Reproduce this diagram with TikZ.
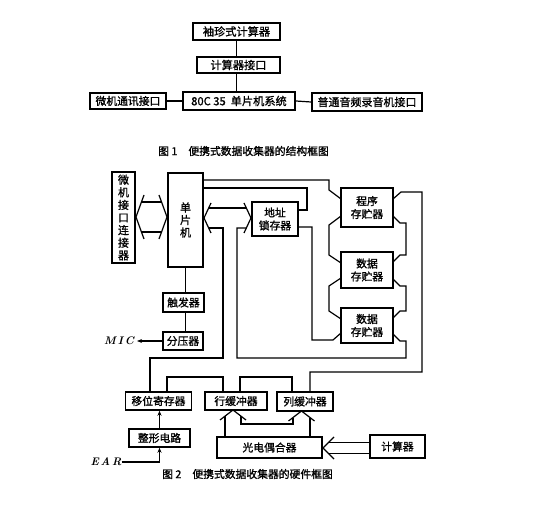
\documentclass[tikz,border=0pt]{standalone}
\usepackage{fontspec}
\newfontfamily\cjk{Noto Sans CJK SC}[AutoFakeBold=1.2]
\usetikzlibrary{arrows.meta}
\begin{document}
\begin{tikzpicture}[x=1pt,y=-1pt,
  box/.style={draw, line width=1.5pt, inner sep=0pt, align=center, font=\cjk\bfseries\fontsize{10.8}{13}\selectfont},
  boxA/.style={box, line width=1.9pt, font=\cjk\bfseries\fontsize{11.2}{13}\selectfont},
  ln/.style={line width=1.2pt},
  arr/.style={ln, -{Stealth[length=5pt,width=4pt]}},
  lbl/.style={inner sep=0pt, font=\bfseries\itshape\fontsize{11}{13}\selectfont},
  captxt/.style={inner sep=0pt, anchor=west, font=\cjk\bfseries\fontsize{10.8}{13}\selectfont},
]
\useasboundingbox[fill=white] (0,0) rectangle (536,505);

% ---------- Figure 1 ----------
\node[boxA, minimum width=87pt, minimum height=17pt] (pocket) at (236.5,31.5) {袖珍式计算器};
\node[boxA, minimum width=83pt, minimum height=16pt] (calcif) at (238.5,65) {计算器接口};
\node[boxA, minimum width=112pt, minimum height=18pt] (mcu) at (239,101) {80C 35\ \ 单片机系统};
\node[boxA, minimum width=76pt, minimum height=16pt, font=\cjk\bfseries\fontsize{10.8}{13}\selectfont] (pcif) at (128,101) {微机通讯接口};
\node[boxA, minimum width=110pt, minimum height=18pt, font=\cjk\bfseries\fontsize{11}{13}\selectfont] (tape) at (367,102) {普通音频录音机接口};
\draw[ln] (pocket.south) -- (pocket.south |- calcif.north);
\draw[ln] (pocket.south |- calcif.south) -- (pocket.south |- mcu.north);
\draw[ln] (pcif.east) -- (mcu.west);
\draw[ln] (mcu.east) -- (tape.west);
\node[captxt] (cap1) at (158,151) {图 1\hspace{11pt}便携式数据收集器的结构框图};

% ---------- Figure 2 ----------
\node[box, minimum width=23pt, minimum height=91pt, font=\cjk\bfseries\fontsize{11}{12.6}\selectfont] (conn) at (123.5,217.5) {微\\机\\接\\口\\连\\接\\器};
\node[box, minimum width=35pt, minimum height=94pt, font=\cjk\bfseries\fontsize{11}{12.5}\selectfont] (cpu) at (185.5,220) {单\\片\\机};
\node[box, minimum width=41pt, minimum height=19pt] (trig) at (183.5,302.5) {触发器};
\node[box, minimum width=40pt, minimum height=18pt] (div) at (183,341) {分压器};
\node[box, minimum width=46pt, minimum height=34pt] (latch) at (275,219) {地址\\锁存器};
\node[box, minimum width=52pt, minimum height=39pt] (prog) at (367,207.5) {程序\\存贮器};
\node[box, minimum width=52pt, minimum height=36pt] (dm1) at (367,270) {数据\\存贮器};
\node[box, minimum width=52pt, minimum height=35pt] (dm2) at (367,325.5) {数据\\存贮器};
\node[box, minimum width=66pt, minimum height=18pt] (shift) at (158.5,401) {移位寄存器};
\node[box, minimum width=62pt, minimum height=18pt] (rowb) at (236,401) {行缓冲器};
\node[box, minimum width=56pt, minimum height=19pt] (colb) at (305,401.5) {列缓冲器};
\node[box, minimum width=61pt, minimum height=18pt] (shape) at (159.5,438) {整形电路};
\node[box, minimum width=105pt, minimum height=21pt] (opto) at (269.5,447.5) {光电偶合器};
\node[box, minimum width=55pt, minimum height=23pt] (calc) at (397.5,446.5) {计算器};
\node[lbl] (mic) at (119,341) {M\,I\,C};
\node[lbl] (ear) at (106,462) {E\,A\,R};
\node[captxt] (cap2) at (162,474) {图 2\hspace{11pt}便携式数据收集器的硬件框图};

% conn <-> cpu bus
\draw[ln] (144,195) -- (136,217) -- (144,239);
\draw[ln] (159,195) -- (167,217) -- (159,239);
\draw[ln] (141.5,202) -- (161.5,202) (141.5,232) -- (161.5,232);

% cpu <-> latch bus
\draw[ln] (211,203) -- (204,218) -- (211,233);
\draw[ln] (244,203) -- (251,218) -- (244,233);
\draw[ln] (208.7,208) -- (246.3,208);
\draw[ln] (208.7,228) -- (223,228) -- (223,358) -- (150,358) -- (150,392);
\draw[ln] (246.3,228) -- (237,228) -- (237,358) -- (406,358) -- (406,341) -- (400,341) -- (393,334);

% control lines from cpu
\draw[ln] (203,180) -- (329,180) -- (329,190) -- (341,199);
\draw[ln] (203,188) -- (307,188) -- (307,210) -- (latch.east |- 0,210);
\draw[ln] (latch.east |- 0,227) -- (312,227) -- (312,340) -- (333,340) -- (341,333);

% memory left chain
\draw[ln] (341,216) -- (329,225) -- (329,255) -- (341,263);
\draw[ln] (341,278) -- (329,286) -- (329,311) -- (341,319);

% memory right chain
\draw[ln] (393,199) -- (401,192) -- (422,192) -- (422,372) -- (310,372) -- (310,392);
\draw[ln] (393,216) -- (400,223) -- (406,223) -- (406,255) -- (400,255) -- (393,262);
\draw[ln] (393,279) -- (400,286) -- (406,286) -- (406,311) -- (400,311) -- (393,318);

% lines to shift / row / column buffers
\draw[ln] (167,392) -- (167,377) -- (223,377) -- (223,392);
\draw[ln] (240,392) -- (240,377) -- (292,377) -- (292,392);

% opto -> buffers
\draw[ln] (220,420) -- (233,410) -- (246,420);
\draw[ln] (288.5,421) -- (301.5,411) -- (314.5,421);
\draw[ln] (225,437) -- (225,416.2);
\draw[ln] (241,416.2) -- (241,424) -- (293,424) -- (293,417.5);
\draw[ln] (310,437) -- (310,417.5);

% calc -> opto
\draw[ln] (334,437) -- (323,448) -- (334,459);
\draw[ln] (328.5,442.5) -- (calc.west |- 0,442.5) (328.5,453.5) -- (calc.west |- 0,453.5);

% simple links
\draw[ln] (cpu.south) -- (cpu.south |- trig.north);
\draw[ln] (cpu.south |- trig.south) -- (cpu.south |- div.north);
\draw[arr] (div.west) -- ([xshift=3pt]mic.east);
\draw[arr] (ear.east) -| (shape.south);
\draw[arr] (shape.north) -- (shape.north |- shift.south);
\end{tikzpicture}
\end{document}
